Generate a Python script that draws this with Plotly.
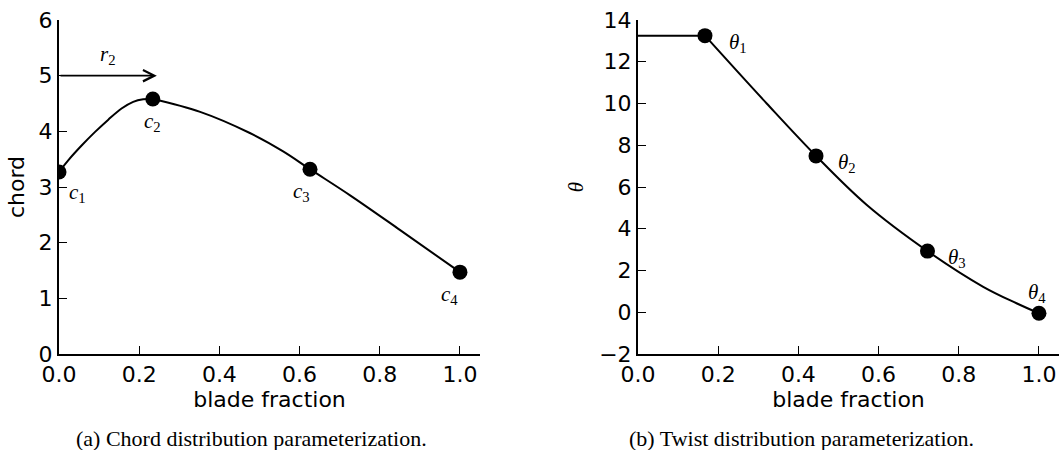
import plotly.graph_objects as go

# Chord distribution: control points and the spline curve through them
chord_ctrl_x = [0.0, 0.234, 0.626, 1.0]
chord_ctrl_y = [3.27, 4.58, 3.32, 1.47]
# rising root section up to c2
chord_rise_x = [0.0, 0.023, 0.057, 0.09, 0.123, 0.156, 0.185, 0.21, 0.234]
chord_rise_y = [3.27, 3.48, 3.75, 3.99, 4.21, 4.41, 4.53, 4.575, 4.58]
# outboard section from c2 to the tip
chord_fall_x = [0.234, 0.352, 0.476, 0.559, 0.626, 0.726, 0.85, 1.0]
chord_fall_y = [4.58, 4.35, 3.97, 3.64, 3.32, 2.85, 2.23, 1.47]
chord_labels = ["c", "c", "c", "c"]
chord_label_x = [0.045, 0.234, 0.606, 0.975]
chord_label_y = [2.89, 4.17, 2.91, 1.06]

# Radial location of the c2 control point
r2_value = 0.244
r2_height = 5.0

# Twist distribution: flat root section, then spline through control points
theta_ctrl_x = [0.167, 0.444, 0.722, 1.0]
theta_ctrl_y = [13.25, 7.49, 2.93, -0.05]
theta_flat_x = [0.0, 0.167]
theta_flat_y = [13.25, 13.25]
theta_curve_x = [0.167, 0.321, 0.444, 0.570, 0.722, 0.861, 0.944, 1.0]
theta_curve_y = [13.25, 10.0, 7.49, 5.15, 2.93, 1.22, 0.43, -0.05]
theta_label_x = [0.249, 0.521, 0.795, 0.995]
theta_label_y = [12.9, 7.15, 2.6, 0.92]

x_ticks = [0.0, 0.2, 0.4, 0.6, 0.8, 1.0]
chord_ticks = [0, 1, 2, 3, 4, 5, 6]
theta_ticks = [-2, 0, 2, 4, 6, 8, 10, 12, 14]

SANS = "DejaVu Sans"
SERIF = "Liberation Serif"
TICK_SIZE = 22

fig = go.Figure()

line_style = dict(color="black", width=2)
marker_style = dict(color="black", size=15)

for cx, cy in ((chord_rise_x, chord_rise_y), (chord_fall_x, chord_fall_y)):
    fig.add_trace(go.Scatter(x=cx, y=cy, mode="lines",
                             line=dict(shape="spline", **line_style),
                             xaxis="x", yaxis="y", showlegend=False))
fig.add_trace(go.Scatter(x=chord_ctrl_x, y=chord_ctrl_y, mode="markers",
                         marker=marker_style, xaxis="x", yaxis="y", showlegend=False))

fig.add_trace(go.Scatter(x=theta_flat_x, y=theta_flat_y, mode="lines",
                         line=line_style, xaxis="x2", yaxis="y2", showlegend=False))
fig.add_trace(go.Scatter(x=theta_curve_x, y=theta_curve_y, mode="lines",
                         line=dict(shape="spline", **line_style),
                         xaxis="x2", yaxis="y2", showlegend=False))
fig.add_trace(go.Scatter(x=theta_ctrl_x, y=theta_ctrl_y, mode="markers",
                         marker=marker_style, xaxis="x2", yaxis="y2", showlegend=False))

annotations = []
math_font = dict(family=SERIF, size=21, color="black")
for i, (lx, ly) in enumerate(zip(chord_label_x, chord_label_y)):
    annotations.append(dict(x=lx, y=ly, xref="x", yref="y", showarrow=False,
                            text=f"<i>{chord_labels[i]}</i><sub>{i + 1}</sub>",
                            font=math_font, xanchor="center", yanchor="middle"))
for i, (lx, ly) in enumerate(zip(theta_label_x, theta_label_y)):
    annotations.append(dict(x=lx, y=ly, xref="x2", yref="y2", showarrow=False,
                            text=f"<i>θ</i><sub>{i + 1}</sub>",
                            font=math_font, xanchor="center", yanchor="middle"))

# r2 arrow and label
annotations.append(dict(x=r2_value, y=r2_height, ax=0.0, ay=r2_height,
                        xref="x", yref="y", axref="x", ayref="y",
                        showarrow=True, arrowhead=5, arrowsize=1.4, arrowwidth=1.6,
                        arrowcolor="black", text=""))
annotations.append(dict(x=0.122, y=5.37, xref="x", yref="y", showarrow=False,
                        text="<i>r</i><sub>2</sub>", font=math_font))

# Sub-figure captions
caption_font = dict(family=SERIF, size=22, color="black")
annotations.append(dict(x=0.2377, y=-0.2515, xref="paper", yref="paper", showarrow=False,
                        text="(a) Chord distribution parameterization.", font=caption_font,
                        xanchor="center", yanchor="middle"))
annotations.append(dict(x=0.7566, y=-0.2515, xref="paper", yref="paper", showarrow=False,
                        text="(b) Twist distribution parameterization.", font=caption_font,
                        xanchor="center", yanchor="middle"))

axis_common = dict(showline=True, linecolor="black", linewidth=2, mirror=False,
                   ticks="inside", ticklen=8, tickwidth=1, tickcolor="black",
                   showgrid=False, zeroline=False, automargin=False,
                   tickfont=dict(family=SANS, size=TICK_SIZE, color="black"))

fig.update_layout(
    width=1060, height=450,
    margin=dict(l=0, r=0, t=20, b=96),
    paper_bgcolor="white", plot_bgcolor="white",
    annotations=annotations,
    xaxis=dict(domain=[59 / 1060, 480 / 1060], range=[0, 1.05], tickvals=x_ticks,
               ticktext=[f"{v:.1f}" for v in x_ticks], anchor="y",
               title=dict(text="blade fraction", font=dict(family=SANS, size=TICK_SIZE, color="black"),
                          standoff=4),
               **axis_common),
    yaxis=dict(domain=[0, 1], range=[0, 6], tickvals=chord_ticks, anchor="x",
               title=dict(text="chord", font=dict(family=SANS, size=TICK_SIZE, color="black"),
                          standoff=8),
               **axis_common),
    xaxis2=dict(domain=[638 / 1060, 1059 / 1060], range=[0, 1.05], tickvals=x_ticks,
                ticktext=[f"{v:.1f}" for v in x_ticks], anchor="y2",
                title=dict(text="blade fraction", font=dict(family=SANS, size=TICK_SIZE, color="black"),
                           standoff=4),
                **axis_common),
    yaxis2=dict(domain=[0, 1], range=[-2, 14], tickvals=theta_ticks, anchor="x2",
                title=dict(text="<i>θ</i>", font=dict(family=SERIF, size=21, color="black"),
                           standoff=10),
                **axis_common),
)

fig.write_html("out.html")
